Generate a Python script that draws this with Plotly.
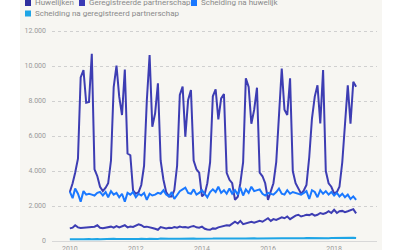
import plotly.graph_objects as go
import pandas as pd

months = pd.date_range("2010-01-01", "2018-09-01", freq="MS")

huwelijken = [
    2800, 3300, 3900, 4700, 9350, 9770, 7900, 7950, 10700, 4100, 3700, 3100,
    2850, 3050, 3300, 4600, 8800, 10020, 8250, 7200, 9800, 5000, 4900, 2900,
    2700, 2800, 3200, 4300, 8000, 10630, 6530, 7300, 9010, 4600, 3500, 2800,
    2550, 2550, 2900, 4300, 8340, 8820, 5960, 8060, 8630, 4600, 4100, 3900,
    2550, 2700, 3300, 4500, 8270, 8670, 6950, 8150, 8400, 3900, 3500, 3300,
    2350, 2530, 3300, 4500, 9300, 8800, 6700, 7490, 8760, 3900, 3700, 3300,
    2350, 2800, 3300, 4500, 7500, 9850, 7500, 7200, 9300, 4000, 3300, 3000,
    2700, 2900, 3200, 4800, 7000, 8250, 8900, 6720, 9770, 4000, 3300, 3100,
    2720, 2800, 3100, 4500, 7000, 8900, 6700, 9100, 8820,
]
partnerschap = [
    720, 760, 900, 780, 740, 760, 770, 780, 800, 820, 900, 760,
    730, 760, 780, 820, 760, 850, 780, 820, 900, 780, 830, 800,
    860, 950, 900, 800, 820, 760, 740, 700, 640, 800, 760, 720,
    760, 740, 800, 760, 820, 780, 800, 760, 820, 860, 780, 760,
    820, 700, 660, 640, 720, 700, 780, 820, 830, 900, 880, 1000,
    1100, 1000, 1150, 960, 1000, 1080, 1100, 1050, 1100, 1150, 1100, 1200,
    1300, 1150, 1250, 1200, 1280, 1350, 1300, 1400, 1250, 1350, 1450, 1500,
    1400, 1450, 1500, 1480, 1550, 1450, 1500, 1600, 1550, 1600, 1700, 1600,
    1780, 1600, 1700, 1720, 1650, 1700, 1780, 1820, 1580,
]
scheiding_huwelijk = [
    2820, 2450, 3000, 2700, 2250, 2850, 2650, 2700, 2650, 2600, 2750, 2800,
    2600, 2800, 2500, 2850, 2650, 2750, 2500, 2700, 2250, 2750, 2650, 2800,
    2500, 2700, 2600, 2750, 2350, 2700, 2600, 2650, 2750, 2700, 2900, 2650,
    2550, 2800, 2400, 2650, 2850, 2950, 3050, 2750, 2700, 2950, 2650, 2750,
    2900, 2700, 2500, 2800, 2950, 2800, 3100, 2750, 2900, 2700, 3000, 2700,
    2900, 2650, 3050, 2600, 2950, 2750, 3100, 2850, 2900, 2950, 2700, 2600,
    2750, 2700, 2650, 2800, 3000, 2700, 2650, 2900, 2700, 2800, 2750, 2700,
    2650, 2750, 2850, 2400, 2900, 2800, 2500, 2900, 2700, 2850, 2650, 2800,
    2600, 2750, 2550, 2700, 2500, 2650, 2400, 2550, 2350,
]
scheiding_gp = [
    100, 110, 95, 120, 105, 100, 115, 110, 100, 120, 110, 105,
    115, 100, 120, 110, 125, 110, 105, 120, 115, 110, 125, 110,
    120, 115, 130, 110, 120, 125, 115, 130, 120, 140, 125, 120,
    130, 125, 140, 130, 125, 135, 150, 140, 130, 145, 135, 130,
    140, 150, 135, 145, 140, 150, 160, 145, 150, 140, 155, 145,
    150, 145, 160, 150, 140, 155, 150, 160, 150, 155, 145, 150,
    160, 150, 155, 165, 150, 160, 155, 150, 160, 155, 165, 150,
    160, 155, 165, 160, 170, 160, 165, 175, 165, 170, 160, 170,
    175, 180, 170, 185, 180, 175, 185, 180, 170,
]

series_names = ["Huwelijken", "Geregistreerde partnerschap",
                "Scheiding na huwelijk", "Scheiding na geregistreerd partnerschap"]
series_values = [huwelijken, partnerschap, scheiding_huwelijk, scheiding_gp]
colors = ["#3d3db3", "#3d3db3", "#1a78ff", "#1ea5e6"]
legend_colors = ["#2e2e9e", "#3a3ab5", "#1a78ff", "#1ea5e6"]

y_ticks = [0, 2000, 4000, 6000, 8000, 10000, 12000]

fig = go.Figure()
for name, vals, col in zip(series_names, series_values, colors):
    fig.add_trace(go.Scatter(x=months, y=vals, name=name, mode="lines",
                             line=dict(color=col, width=2), showlegend=False))

# plot area geometry in pixels
L, R, T, B = 52, 377, 27, 241
W, H = R - L, B - T

def px(x):
    return (x - L) / W

def py(y):
    return (B - y) / H

shapes = [
    dict(type="rect", xref="paper", yref="paper", x0=px(20), x1=px(382),
         y0=py(260), y1=py(-10), fillcolor="#f7f6f2", line=dict(width=0), layer="below"),
]
annotations = []
legend_items = [(25, 3, 0), (79, 3, 1), (191, 3, 2), (25, 13.5, 3)]
for x0, yc, i in legend_items:
    shapes.append(dict(type="rect", xref="paper", yref="paper",
                       x0=px(x0), x1=px(x0 + 6), y0=py(yc + 3), y1=py(yc - 3),
                       fillcolor=legend_colors[i], line=dict(width=0)))
    annotations.append(dict(xref="paper", yref="paper", x=px(x0 + 8), y=py(yc),
                            xanchor="left", yanchor="middle", showarrow=False,
                            text=series_names[i],
                            font=dict(family="Roboto", size=8, color="#8a8a8a")))

fig.update_layout(
    width=400, height=250,
    margin=dict(l=L, r=400 - R, t=T, b=250 - B),
    paper_bgcolor="white", plot_bgcolor="white",
    separators=",.",
    shapes=shapes, annotations=annotations,
    showlegend=False,
    xaxis=dict(range=["2009-06-18", "2019-04-20"], tickformat="%Y",
               tickvals=["2010-01-01", "2012-01-01", "2014-01-01", "2016-01-01", "2018-01-01"],
               showgrid=False, zeroline=False, showline=False, automargin=False,
               tickfont=dict(family="Roboto", size=7, color="#999999"),
               ticks="", ticklabelstandoff=2),
    yaxis=dict(range=[0, 12000 * H / 210], tickvals=y_ticks, tickformat=",d",
               showgrid=True, gridcolor="#d0d0d0", griddash="dot", gridwidth=1,
               zeroline=True, zerolinecolor="#d8d8d8", zerolinewidth=1,
               automargin=False, ticks="", ticklabelstandoff=5,
               tickfont=dict(family="Roboto", size=7, color="#999999")),
)

fig.write_html("out.html")
